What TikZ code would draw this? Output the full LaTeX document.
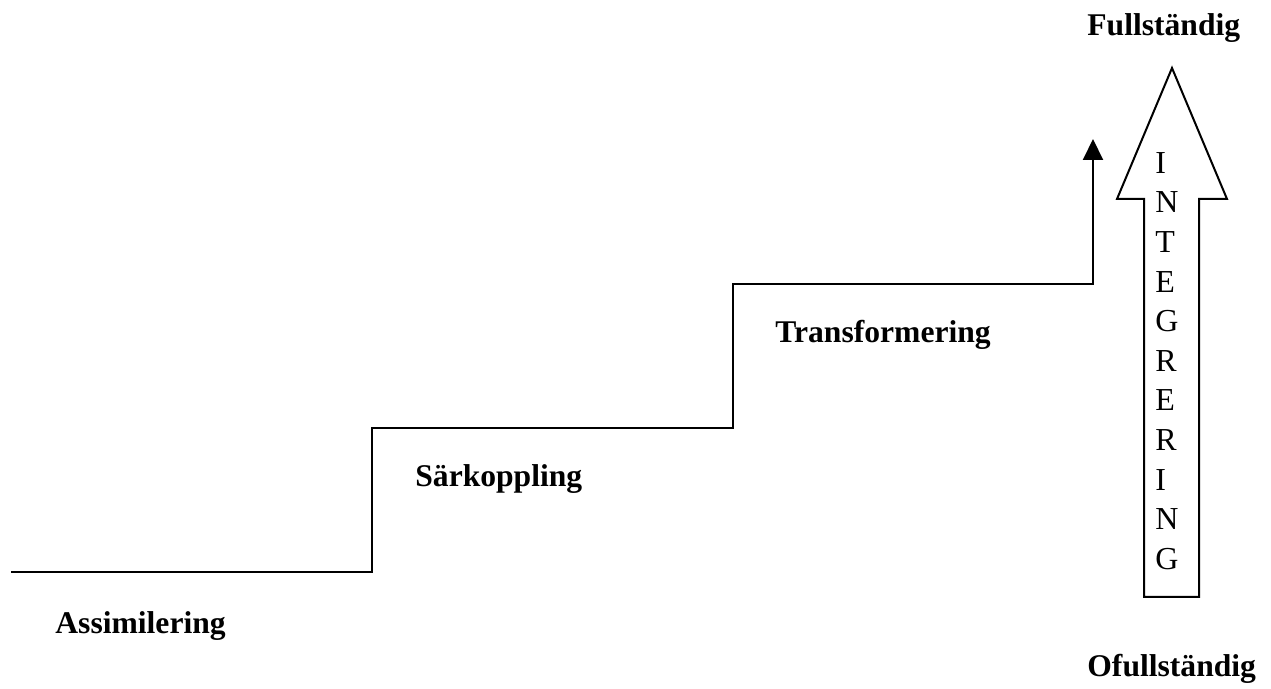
\documentclass[tikz,border=0pt]{standalone}
\usepackage{fontspec}
\setmainfont{Liberation Serif}
\usetikzlibrary{arrows.meta}
\tikzset{
  %% stage label
  stage/.style={font=\bfseries\fontsize{15.8}{18}\selectfont, inner sep=0pt, anchor=base west},
  %% staircase line
  stair/.style={line width=1pt, -{Triangle[length=10.5pt,width=10pt]}},
  %% hollow arrow
  bigarr/.style={line width=1pt, fill=white, line join=miter}
}
\begin{document}
\begin{tikzpicture}[x=0.5pt, y=-0.5pt]
\useasboundingbox (0,0) rectangle (1271,689);

% staircase corners
\coordinate (s0) at (11,572);
\coordinate (s1) at (372,572);
\coordinate (s2) at (372,428);
\coordinate (s3) at (733,428);
\coordinate (s4) at (733,284);
\coordinate (s5) at (1093,284);
\coordinate (s6) at (1093,139);

\draw[stair] (s0) -- (s1) -- (s2) -- (s3) -- (s4) -- (s5) -- (s6);

% stage labels
\node[stage] (assim) at (55,634) {Assimilering};
\node[stage] (sark)  at (415,487) {Särkoppling};
\node[stage] (trans) at (775,343) {Transformering};
\node[stage] (full)  at (1087,36) {Fullständig};
\node[stage] (oful)  at (1087,677) {Ofullständig};

% hollow integration arrow
\draw[bigarr] (1144,597) -- (1144,199) -- (1117,199) -- (1172,68)
  -- (1227,199) -- (1199,199) -- (1199,597) -- cycle;

\node[font=\fontsize{16}{19.8}\selectfont, align=left, inner sep=0pt, anchor=west]
  (integ) at (1155,361)
  {I\\N\\T\\E\\G\\R\\E\\R\\I\\N\\G};

\end{tikzpicture}
\end{document}
